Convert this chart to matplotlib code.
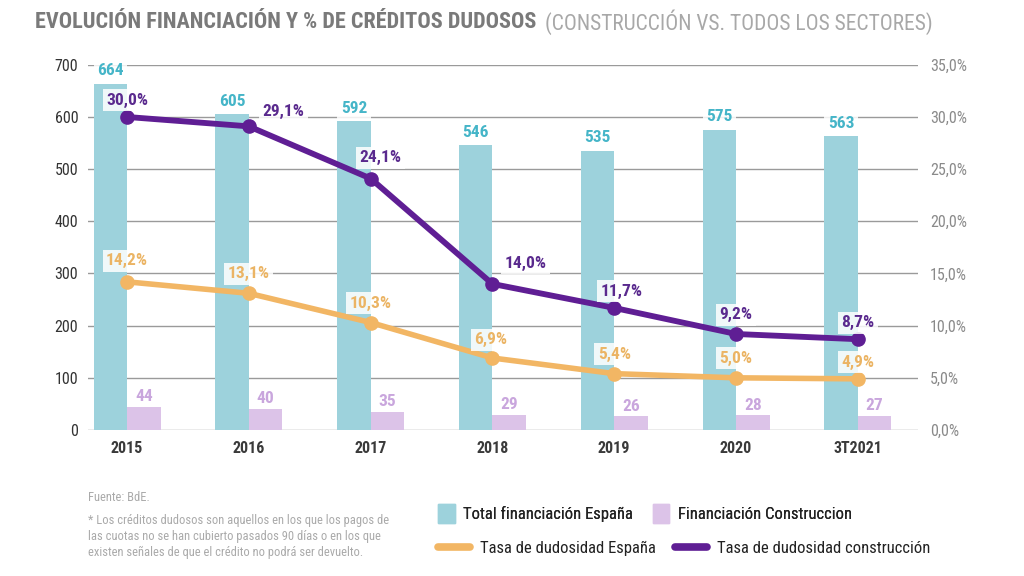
import matplotlib
matplotlib.use("Agg")
import matplotlib.pyplot as plt
from matplotlib import font_manager
from matplotlib.patches import Patch
from matplotlib.lines import Line2D
import numpy as np

# pick a narrow font if there is one
names = set(f.name for f in font_manager.fontManager.ttflist)
narrow = "DejaVu Sans"
for cand in ["Roboto Condensed", "Liberation Sans Narrow", "DejaVu Sans Condensed", "Open Sans Condensed"]:
    if cand in names:
        narrow = cand
        break
plt.rcParams['font.family'] = [narrow, 'DejaVu Sans']

# data
categorias = ['2015', '2016', '2017', '2018', '2019', '2020', '3T2021']
total_espana = [664, 605, 592, 546, 535, 575, 563]
construccion = [44, 40, 35, 29, 26, 28, 27]
tasa_espana = [14.2, 13.1, 10.3, 6.9, 5.4, 5.0, 4.9]
tasa_construccion = [30.0, 29.1, 24.1, 14.0, 11.7, 9.2, 8.7]

col_blue = '#9dd2dc'
col_pink = '#dcc3e8'
col_orange = '#f2b664'
col_purple = '#5f1e94'

fig = plt.figure(figsize=(10.24, 5.76), dpi=100)
ax = fig.add_axes([0.086, 0.2535, 0.81, 0.634])
ax2 = ax.twinx()

x = np.arange(len(categorias))
w = 0.275
ax.bar(x - w/2, total_espana, w, color=col_blue, zorder=2)
ax.bar(x + w/2, construccion, w, color=col_pink, zorder=2)

ax.set_xlim(-0.32, 6.49)
ax.set_ylim(0, 700)
ax.set_yticks(range(0, 701, 100))
ax2.set_ylim(0, 35)
pct_ticks = np.arange(0, 36, 5)
ax2.set_yticks(pct_ticks)
ax2.set_yticklabels([('%.1f%%' % v).replace('.', ',') for v in pct_ticks])

ax.set_xticks(x)
ax.set_xticklabels(categorias)
ax.yaxis.grid(True, color='#9a9a9a', linewidth=1, zorder=0)
ax.set_axisbelow(True)
for a in (ax, ax2):
    for s in a.spines.values():
        s.set_visible(False)
ax.tick_params(axis='both', length=0, labelsize=11.5, colors='#333333', pad=8)
ax.tick_params(axis='y', pad=7)
ax2.tick_params(axis='y', length=0, labelsize=11.5, colors='#8a8a8a', pad=9)
for t in ax.get_xticklabels():
    t.set_fontweight('bold')
    t.set_color('#3a3a3a')

box = dict(boxstyle='square,pad=0.2', fc='white', ec='none', alpha=0.85)

for xi, v in zip(x, total_espana):
    ax.annotate(str(v), (xi - w/2, v), xytext=(0, 4), textcoords='offset points',
                ha='center', va='bottom', color='#45b5c8', fontsize=12.5,
                fontweight='bold', bbox=box, zorder=5)
for xi, v in zip(x, construccion):
    ax.annotate(str(v), (xi + w/2, v), xytext=(0, 2), textcoords='offset points',
                ha='center', va='bottom', color='#c9a6dd', fontsize=12.5,
                fontweight='bold', zorder=5)

ax2.plot(x, tasa_espana, color=col_orange, lw=4, marker='o', ms=9.5, zorder=3)
ax2.plot(x, tasa_construccion, color=col_purple, lw=4.2, marker='o', ms=9.5, zorder=4)

off_or = [(0, 15), (0, 14), (0, 14), (-1, 13), (0, 14), (0, 14), (0, 12)]
off_pu = [(0, 12), (25, 11), (7, 15), (24, 15), (5, 12), (0, 14), (0, 12)]
for xi, v, o in zip(x, tasa_espana, off_or):
    ax2.annotate(('%.1f%%' % v).replace('.', ','), (xi, v), xytext=o,
                 textcoords='offset points', ha='center', va='center',
                 color='#ebb464', fontsize=12.5, fontweight='bold', bbox=box, zorder=6)
for xi, v, o in zip(x, tasa_construccion, off_pu):
    ax2.annotate(('%.1f%%' % v).replace('.', ','), (xi, v), xytext=o,
                 textcoords='offset points', ha='center', va='center',
                 color='#5a2a8e', fontsize=12.5, fontweight='bold', bbox=box, zorder=6)

# title
t1 = fig.text(0.034, 0.962, 'EVOLUCIÓN FINANCIACIÓN Y % DE CRÉDITOS DUDOSOS',
              fontsize=16, fontweight='bold', color='#7a7a7a', va='center')
fig.canvas.draw()
bb = t1.get_window_extent()
fig.text((bb.x1 + 9) / fig.bbox.width, 0.962, '(CONSTRUCCIÓN VS. TODOS LOS SECTORES)',
         fontsize=15.5, color='#a8a8a8', va='center')

# footnote
fig.text(0.086, 0.137, 'Fuente: BdE.', fontsize=9, color='#aaaaaa', va='center')
fig.text(0.086, 0.108, '* Los créditos dudosos son aquellos en los que los pagos de\n'
         'las cuotas no se han cubierto pasados 90 días o en los que\n'
         'existen señales de que el crédito no podrá ser devuelto.',
         fontsize=9, color='#aaaaaa', va='top', linespacing=1.3)

# legend, two rows
row1 = [Patch(color=col_blue), Patch(color=col_pink)]
row2 = [Line2D([], [], color=col_orange, lw=5.5, solid_capstyle='round'),
        Line2D([], [], color=col_purple, lw=5.5, solid_capstyle='round')]
leg1 = fig.legend(row1, ['Total financiación España', 'Financiación Construccion'],
                  ncol=2, loc='center left', bbox_to_anchor=(0.413, 0.109),
                  frameon=False, fontsize=12, handlelength=1.0, handleheight=1.4,
                  handletextpad=0.5, columnspacing=1.2, labelcolor='#222222')
fig.legend(row2, ['Tasa de dudosidad España', 'Tasa de dudosidad construcción'],
           ncol=2, loc='center left', bbox_to_anchor=(0.413, 0.048),
           frameon=False, fontsize=12, handlelength=1.9,
           handletextpad=0.6, columnspacing=1.2, labelcolor='#222222')
fig.add_artist(leg1)

fig.savefig('out.png', dpi=100)
